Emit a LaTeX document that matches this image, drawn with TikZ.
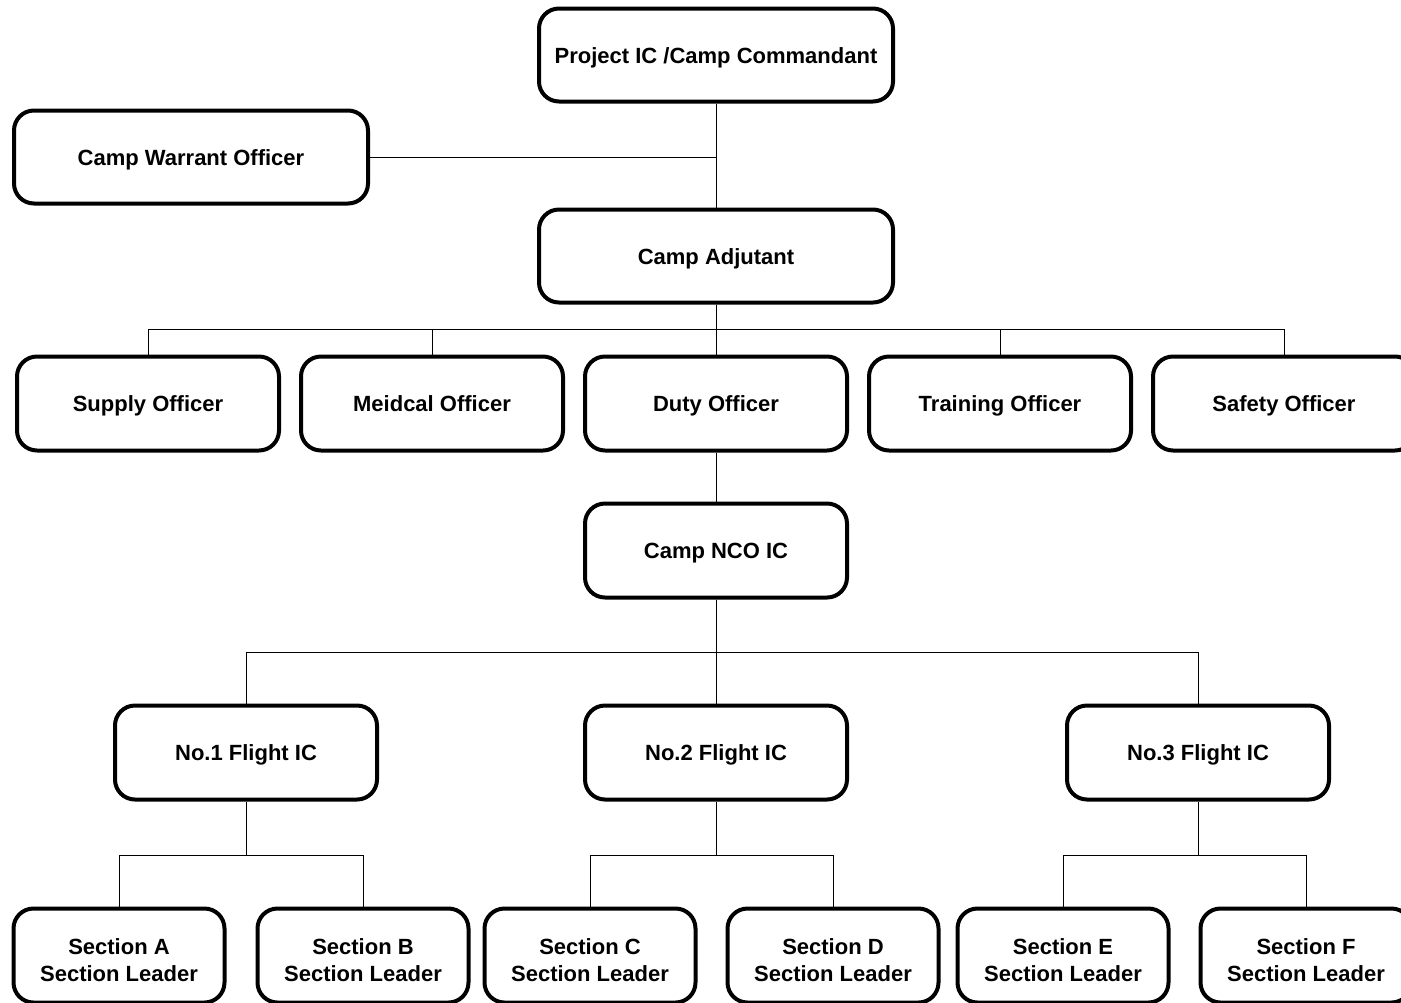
\documentclass[tikz,border=0pt]{standalone}
\usepackage{fontspec}
\setmainfont{Liberation Sans}
\usetikzlibrary{positioning}

\begin{document}
\begin{tikzpicture}[x=0.5pt, y=-0.5pt, every node/.style={font=\fontsize{11}{13.5}\selectfont\bfseries, align=center}, unit/.style={draw, line width=2pt, rounded corners=10pt, fill=white, inner sep=2pt}, oneline/.style={text height=8pt, text depth=0pt}, bigunit/.style={unit, oneline, minimum width=177pt, minimum height=46.5pt}, midunit/.style={unit, oneline, minimum width=131pt, minimum height=47pt}, smallunit/.style={unit, text height=25.5pt, text depth=0pt, minimum width=105.5pt, minimum height=47pt}, link/.style={line width=0.5pt}]
        \useasboundingbox (0,0) rectangle (1401,1002);
        \node[bigunit] (pic) at (716,55) {Project IC /Camp Commandant};
        \node[bigunit] (cwo) at (191,157) {Camp Warrant Officer};
        \node[bigunit, below=52pt of pic] (adj) {Camp Adjutant};

        \node[midunit, below=25pt of adj] (duty) {Duty Officer};
        \node[midunit, left=9pt of duty] (medical) {Meidcal Officer};
        \node[midunit, left=9pt of medical] (supply) {Supply Officer};
        \node[midunit, right=9pt of duty] (training) {Training Officer};
        \node[midunit, right=9pt of training] (safety) {Safety Officer};

        \node[midunit, below=24.5pt of duty] (nco) {Camp NCO IC};

        \node[midunit, below=52pt of nco] (flight2) {No.2 Flight IC};
        \node[midunit, left=102pt of flight2] (flight1) {No.1 Flight IC};
        \node[midunit, right=108pt of flight2] (flight3) {No.3 Flight IC};

        \node[smallunit, below=52.5pt of flight1, xshift=-63.5pt] (secA) {Section A\\Section Leader};
        \node[smallunit, right=14.5pt of secA] (secB) {Section B\\Section Leader};
        \node[smallunit, below=52.5pt of flight2, xshift=-63pt] (secC) {Section C\\Section Leader};
        \node[smallunit, right=14pt of secC] (secD) {Section D\\Section Leader};
        \node[smallunit, below=52.5pt of flight3, xshift=-67.5pt] (secE) {Section E\\Section Leader};
        \node[smallunit, right=14pt of secE] (secF) {Section F\\Section Leader};

        % command chain
        \draw[link] (pic.south) -- (adj.north);
        \draw[link] (cwo.east) -- (cwo.east -| pic.south);
        \foreach \n in {supply,medical,duty,training,safety}
            \draw[link] (adj.south) -- ++(0,-12.5pt) -| (\n.north);
        \draw[link] (duty.south) -- (nco.north);
        \foreach \n in {flight1,flight2,flight3}
            \draw[link] (nco.south) -- ++(0,-26.5pt) -| (\n.north);

        % sections
        \draw[link] (flight1.south) -- ++(0,-27pt) -| (secA.north);
        \draw[link] (flight1.south) -- ++(0,-27pt) -| (secB.north);
        \draw[link] (flight2.south) -- ++(0,-27pt) -| (secC.north);
        \draw[link] (flight2.south) -- ++(0,-27pt) -| (secD.north);
        \draw[link] (flight3.south) -- ++(0,-27pt) -| (secE.north);
        \draw[link] (flight3.south) -- ++(0,-27pt) -| (secF.north);
    \end{tikzpicture}
\end{document}
